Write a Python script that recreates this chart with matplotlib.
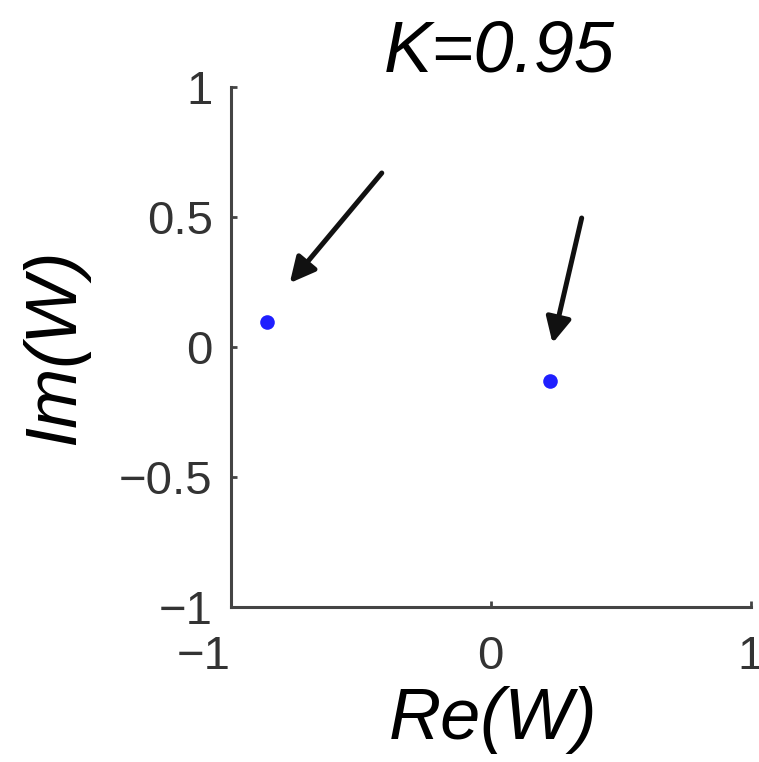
import numpy as np
import matplotlib.pyplot as plt

plt.rcParams['font.family'] = ['Liberation Sans', 'DejaVu Sans']

# eigenvalues W in the complex plane for K = 0.95
re_w = [-0.862, 0.227]
im_w = [0.096, -0.131]
k_value = 0.95

# arrow tails, relative to each point (dx, dy)
arrow_tail = [(0.443, 0.573), (0.123, 0.627)]
arrow_gap = [(0.089, 0.15), (0.011, 0.146)]

x_ticks = [-1, 0, 1]
y_ticks = [-1, -0.5, 0, 0.5, 1]

fig = plt.figure(figsize=(7.59, 7.62), dpi=100)
ax = fig.add_axes([0.304, 0.203, 0.685, 0.683])

ax.plot(re_w, im_w, 'o', color='#1f1fff', markersize=10.5, markeredgewidth=0)

for x, y, (tx, ty), (gx, gy) in zip(re_w, im_w, arrow_tail, arrow_gap):
    ax.annotate('', xy=(x + gx, y + gy), xytext=(x + tx, y + ty),
                arrowprops=dict(arrowstyle='-|>', color='#111111', lw=3.6,
                                mutation_scale=38, shrinkA=0, shrinkB=0))

ax.set_xlim(-1, 1)
ax.set_ylim(-1, 1)
ax.set_xticks(x_ticks)
ax.set_yticks(y_ticks)
ax.set_xticklabels(['\u22121', '0', '1'])
ax.set_yticklabels(['\u22121', '\u22120.5', '0', '0.5', '1'])
# the -1 on the x axis sits left of the corner
ax.get_xticklabels()[0].set_ha('right')

for side in ['top', 'right']:
    ax.spines[side].set_visible(False)
for side in ['left', 'bottom']:
    ax.spines[side].set_linewidth(2.2)
    ax.spines[side].set_color('#444444')

ax.tick_params(direction='in', length=4, width=2, color='#444444',
               labelsize=34, labelcolor='#333333')
ax.tick_params(axis='x', pad=20)
ax.tick_params(axis='y', pad=13)

ax.set_xlabel('Re(W)', fontsize=52, style='italic')
ax.set_ylabel('Im(W)', fontsize=52, style='italic')
ax.xaxis.set_label_coords(0.505, -0.152)
ax.yaxis.set_label_coords(-0.272, 0.5)
ax.set_title('K=%.2f' % k_value, fontsize=52, style='italic', pad=11, x=0.517)

fig.savefig('out.png', dpi=100)
